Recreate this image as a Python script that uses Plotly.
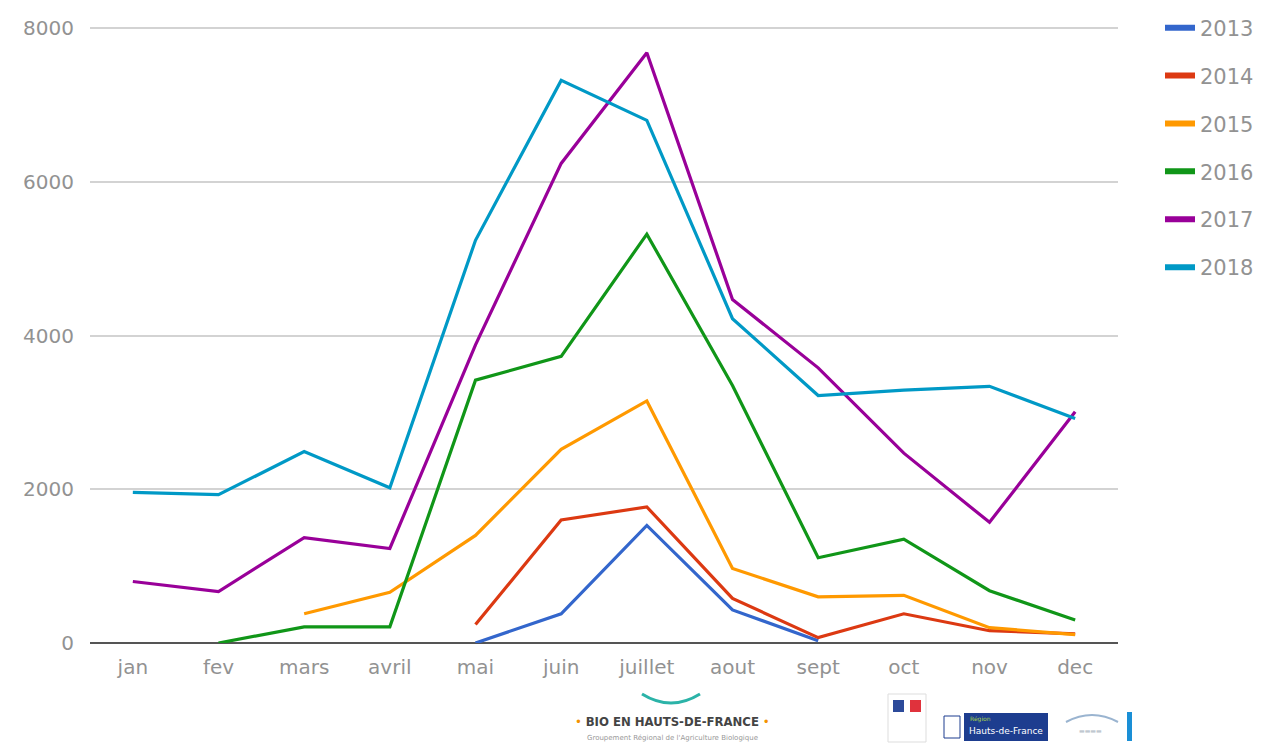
import plotly.graph_objects as go

months = ["jan", "fev", "mars", "avril", "mai", "juin", "juillet", "aout", "sept", "oct", "nov", "dec"]
years = ["2013", "2014", "2015", "2016", "2017", "2018"]
colors = ["#3366cc", "#dc3912", "#ff9900", "#109618", "#990099", "#0099c6"]

v2013 = [None, None, None, None, 0, 380, 1530, 430, 30, None, None, None]
v2014 = [None, None, None, None, 240, 1600, 1770, 580, 70, 380, 160, 120]
v2015 = [None, None, 380, 660, 1400, 2520, 3150, 970, 600, 620, 200, 110]
v2016 = [None, 0, 210, 210, 3420, 3730, 5320, 3350, 1110, 1350, 680, 300]
v2017 = [800, 670, 1370, 1230, 3880, 6240, 7680, 4470, 3580, 2470, 1570, 3010]
v2018 = [1960, 1930, 2490, 2020, 5240, 7320, 6800, 4220, 3220, 3290, 3340, 2920]
series = [v2013, v2014, v2015, v2016, v2017, v2018]

W, H = 1276, 745
L, R, T, B = 90, 1118, 22, 643
YMAX = 8080


def px(x):
    return (x - L) / (R - L)


def py(y):
    return (B - y) / (B - T)


FONT = "DejaVu Sans, Arial, sans-serif"
GREY = "#929292"

fig = go.Figure()
for name, col, vals in zip(years, colors, series):
    fig.add_trace(go.Scatter(
        x=months, y=vals, name=name, mode="lines",
        line=dict(color=col, width=3.2), connectgaps=False,
        showlegend=False, hoverinfo="x+y+name",
    ))
# legend-only entries with thicker sample
for name, col in zip(years, colors):
    fig.add_trace(go.Scatter(
        x=[None], y=[None], name=name, mode="lines",
        line=dict(color=col, width=6), legendgroup=name, showlegend=True,
    ))

fig.update_layout(
    width=W, height=H,
    margin=dict(l=L, r=W - R, t=T, b=H - B, pad=0, autoexpand=False),
    paper_bgcolor="white", plot_bgcolor="white",
    font=dict(family=FONT, color=GREY, size=20),
    xaxis=dict(range=[-0.5, 11.5], showgrid=False, zeroline=False, showline=False, ticks="",
               tickfont=dict(size=20, color=GREY, family=FONT), ticklabelstandoff=10),
    yaxis=dict(range=[0, YMAX], tickvals=[0, 2000, 4000, 6000, 8000],
               showgrid=True, gridcolor="#d3d3d3", gridwidth=1.5,
               zeroline=True, zerolinecolor="#555555", zerolinewidth=2,
               showline=False, ticks="", ticklabelstandoff=15,
               tickfont=dict(size=20, color=GREY, family=FONT)),
    legend=dict(x=px(1160), y=py(7.5), xanchor="left", yanchor="top",
                font=dict(size=21, color=GREY, family=FONT), tracegroupgap=17.6,
                itemwidth=30, bgcolor="rgba(0,0,0,0)"),
    showlegend=True,
)

# Footer logos (approximations)
fig.add_shape(type="path", xref="paper", yref="paper",
              path=f"M {px(642)} {py(694)} Q {px(671)} {py(712)} {px(700)} {py(694)}",
              line=dict(color="#2bb3a8", width=3))
fig.add_annotation(xref="paper", yref="paper", x=px(672), y=py(721),
                   text="<span style='color:#f39200'>•</span> <b>BIO EN HAUTS-DE-FRANCE</b> <span style='color:#f39200'>•</span>",
                   showarrow=False, font=dict(size=13, color="#444444", family="DejaVu Sans Condensed, Arial"),
                   xanchor="center", yanchor="middle")
fig.add_annotation(xref="paper", yref="paper", x=px(672), y=py(738),
                   text="Groupement Régional de l'Agriculture Biologique",
                   showarrow=False, font=dict(size=7, color="#999999"),
                   xanchor="center", yanchor="middle")
# Republique francaise logo
fig.add_shape(type="rect", xref="paper", yref="paper", x0=px(888), x1=px(926), y0=py(742), y1=py(694),
              line=dict(color="#dddddd", width=1), fillcolor="white")
fig.add_shape(type="rect", xref="paper", yref="paper", x0=px(893), x1=px(904), y0=py(712), y1=py(700),
              line=dict(width=0), fillcolor="#2c4a9a")
fig.add_shape(type="rect", xref="paper", yref="paper", x0=px(910), x1=px(921), y0=py(712), y1=py(700),
              line=dict(width=0), fillcolor="#e0323c")
# Hauts-de-France logo
fig.add_shape(type="rect", xref="paper", yref="paper", x0=px(944), x1=px(960), y0=py(738), y1=py(716),
              line=dict(color="#1d3d8f", width=1), fillcolor="white")
fig.add_shape(type="rect", xref="paper", yref="paper", x0=px(964), x1=px(1048), y0=py(741), y1=py(713),
              line=dict(width=0), fillcolor="#1d3d8f")
fig.add_annotation(xref="paper", yref="paper", x=px(1006), y=py(731), text="Hauts-de-France",
                   showarrow=False, font=dict(size=9, color="white"), xanchor="center", yanchor="middle")
fig.add_annotation(xref="paper", yref="paper", x=px(968), y=py(719), text="Région",
                   showarrow=False, font=dict(size=6, color="#a6d34b"), xanchor="left", yanchor="middle")
# third logo
fig.add_shape(type="path", xref="paper", yref="paper",
              path=f"M {px(1066)} {py(722)} Q {px(1092)} {py(708)} {px(1118)} {py(722)}",
              line=dict(color="#9ab4d0", width=2))
fig.add_annotation(xref="paper", yref="paper", x=px(1090), y=py(730), text="▬▬▬▬",
                   showarrow=False, font=dict(size=6, color="#c0c8d0"), xanchor="center", yanchor="middle")
fig.add_shape(type="rect", xref="paper", yref="paper", x0=px(1127), x1=px(1132), y0=py(741), y1=py(712),
              line=dict(width=0), fillcolor="#1a8fd6")

fig.write_html("out.html", config={"displayModeBar": False},
               post_script="document.body.style.margin='0';document.body.style.overflow='hidden';")
